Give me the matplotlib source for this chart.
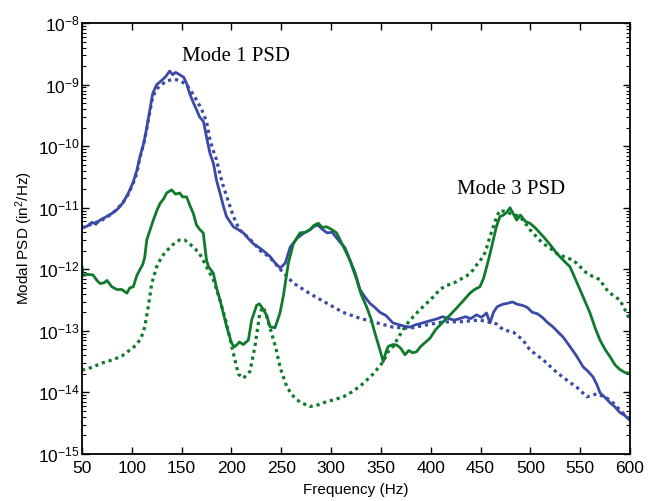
import numpy as np
import matplotlib
matplotlib.use("Agg")
import matplotlib.pyplot as plt
from matplotlib.ticker import LogLocator, NullFormatter

plt.rcParams["font.family"] = ["Liberation Sans", "DejaVu Sans"]
plt.rcParams["mathtext.default"] = "regular"

# blue, solid: mode 1 PSD (measured)
blue_solid_f = [50, 55, 60, 64, 68, 74, 79, 83, 87, 91, 96, 101, 105, 108, 112, 115, 118, 121, 125,
                130, 134, 138, 141, 144, 148, 152, 155, 158, 162, 165, 168, 172, 175, 178.5, 182,
                185, 188.5, 192, 195, 202, 207, 212, 217, 222, 227, 232, 239, 244, 249, 254, 259,
                266, 272, 279, 283, 287, 291, 296, 301, 309, 314, 319, 324, 329, 334, 339, 344,
                349, 355, 362, 368, 373, 379, 385, 390, 396, 402, 407, 412, 418, 424, 429, 435,
                440, 446, 451, 456, 459.5, 463, 466.5, 472, 477, 482, 487, 492, 497, 502, 507,
                512, 517, 523, 528, 533, 540, 546, 553, 558, 563, 567, 570, 575, 580, 585, 590,
                595, 600]
blue_solid_psd = [4.7e-12, 5.0e-12, 5.8e-12, 5.4e-12, 6.3e-12, 7.1e-12, 7.9e-12, 8.7e-12, 1.0e-11,
                  1.2e-11, 1.66e-11, 2.5e-11, 4.0e-11, 6.6e-11, 1.12e-10, 2.0e-10, 3.8e-10, 7.2e-10,
                  1.0e-9, 1.17e-9, 1.35e-9, 1.66e-9, 1.45e-9, 1.58e-9, 1.45e-9, 1.32e-9, 1.05e-9,
                  7.2e-10, 5.0e-10, 3.9e-10, 3.0e-10, 2.5e-10, 1.41e-10, 7.6e-11, 5.2e-11, 2.8e-11,
                  1.74e-11, 1.05e-11, 7.2e-12, 4.9e-12, 4.4e-12, 3.9e-12, 3.16e-12, 2.6e-12, 2.3e-12,
                  2.0e-12, 1.6e-12, 1.26e-12, 1.05e-12, 1.26e-12, 2.3e-12, 3.2e-12, 3.8e-12, 4.4e-12,
                  5.0e-12, 5.2e-12, 4.5e-12, 3.9e-12, 4.0e-12, 2.75e-12, 2.24e-12, 1.4e-12, 8.9e-13,
                  4.7e-13, 3.55e-13, 2.8e-13, 2.4e-13, 2.0e-13, 1.78e-13, 1.35e-13, 1.26e-13, 1.2e-13,
                  1.15e-13, 1.26e-13, 1.32e-13, 1.41e-13, 1.5e-13, 1.58e-13, 1.7e-13, 1.58e-13,
                  1.5e-13, 1.58e-13, 1.7e-13, 1.58e-13, 1.82e-13, 1.66e-13, 1.95e-13, 1.35e-13,
                  2.0e-13, 2.45e-13, 2.7e-13, 2.8e-13, 2.95e-13, 2.7e-13, 2.6e-13, 2.4e-13, 2.0e-13,
                  1.9e-13, 1.66e-13, 1.38e-13, 1.15e-13, 9.5e-14, 7.9e-14, 5.5e-14, 4.0e-14, 2.6e-14,
                  2.2e-14, 1.78e-14, 1.32e-14, 9.8e-15, 8.3e-15, 6.8e-15, 5.8e-15, 4.7e-15, 4.2e-15,
                  3.5e-15]

# blue, dotted: mode 1 PSD (model)
blue_dot_f = [50, 57, 64, 70, 77, 84, 91, 96, 101, 105, 108, 112, 115, 118, 121, 125, 130, 135, 140,
              145, 150, 155, 160, 165, 170, 175, 178.5, 182, 185, 188.5, 192, 196, 202, 208, 215,
              222, 229, 238, 249, 262, 279, 296, 312, 329, 346, 362, 379, 396, 412, 429, 449, 466,
              472.5, 483, 492.6, 499.6, 512.7, 526.7, 539.8, 547, 556.8, 566.8, 576.9, 583, 590,
              595, 600]
blue_dot_psd = [4.7e-12, 5.2e-12, 5.8e-12, 6.3e-12, 7.4e-12, 9.1e-12, 1.2e-11, 1.6e-11, 2.4e-11,
                3.6e-11, 6.3e-11, 1.1e-10, 1.9e-10, 3.5e-10, 6.3e-10, 8.5e-10, 1.0e-9, 1.15e-9,
                1.2e-9, 1.2e-9, 1.12e-9, 1.0e-9, 7.6e-10, 5.6e-10, 4.0e-10, 2.5e-10, 1.26e-10,
                8.3e-11, 6.0e-11, 3.5e-11, 2.2e-11, 1.4e-11, 7.2e-12, 4.4e-12, 3.5e-12, 2.7e-12,
                2.0e-12, 1.6e-12, 1.0e-12, 6.0e-13, 4.0e-13, 2.8e-13, 2.0e-13, 1.6e-13, 1.35e-13,
                1.15e-13, 1.1e-13, 1.25e-13, 1.4e-13, 1.4e-13, 1.5e-13, 1.3e-13, 1.05e-13, 9.5e-14,
                7.1e-14, 4.9e-14, 3.4e-14, 2.1e-14, 1.45e-14, 1.2e-14, 8.5e-15, 9.5e-15, 8.1e-15,
                6.8e-15, 5.2e-15, 4.3e-15, 3.6e-15]

# green, solid: mode 3 PSD (measured)
green_solid_f = [50, 51.3, 55, 61, 65, 68, 72, 75, 80, 85, 90, 95, 98, 101.5, 105, 108, 111, 113, 115,
                 118, 121.6, 125, 128.3, 132, 135, 140, 144, 148, 151, 155, 158, 161.7, 165, 168.4,
                 171.7, 175, 177, 181.8, 185, 188.5, 192, 195.2, 200.2, 203, 205.3, 208, 212, 217,
                 220.3, 225.3, 228, 231, 235.4, 238.7, 243.7, 248.7, 252, 257.1, 262.1, 268.8, 274,
                 278.8, 283, 287.2, 291, 295.6, 300, 305.6, 312.3, 319, 325.7, 330, 335.7, 340,
                 344.1, 348, 352.4, 355, 357.4, 362, 365.8, 370, 374.2, 378, 382, 385.9, 390, 395,
                 399.3, 405, 412.6, 419, 426, 432, 439.4, 444, 449.4, 453, 456.2, 459.5, 462.8,
                 466, 469.5, 473, 476, 479.6, 483, 486.3, 490, 495, 499.6, 505, 513, 520, 526.4,
                 533, 539.8, 545, 549.8, 555, 559.9, 565, 569.9, 575, 580, 585, 590, 595, 600]
green_solid_psd = [1.1e-12, 7.9e-13, 8.3e-13, 8.1e-13, 6.6e-13, 5.9e-13, 6.0e-13, 6.6e-13, 5.2e-13,
                   4.7e-13, 4.7e-13, 4.1e-13, 5.0e-13, 5.2e-13, 7.9e-13, 9.8e-13, 1.2e-12, 1.58e-12,
                   3.0e-12, 4.2e-12, 6.3e-12, 8.9e-12, 1.17e-11, 1.4e-11, 1.74e-11, 1.95e-11,
                   1.66e-11, 1.74e-11, 1.5e-11, 1.5e-11, 1.12e-11, 8.1e-12, 5.2e-12, 4.4e-12,
                   3.9e-12, 1.4e-12, 1.1e-12, 8.7e-13, 5.0e-13, 3.16e-13, 1.9e-13, 1.17e-13, 6.3e-14,
                   5.5e-14, 5.9e-14, 6.6e-14, 6.0e-14, 7.1e-14, 1.5e-13, 2.6e-13, 2.75e-13, 2.35e-13,
                   1.78e-13, 1.17e-13, 1.12e-13, 1.95e-13, 3.6e-13, 1.26e-12, 2.6e-12, 3.9e-12,
                   4.0e-12, 4.4e-12, 5.2e-12, 5.6e-12, 4.8e-12, 4.9e-12, 4.5e-12, 3.9e-12, 2.35e-12,
                   1.4e-12, 6.8e-13, 4.0e-13, 2.45e-13, 1.58e-13, 9.1e-14, 5.6e-14, 3.16e-14, 4.5e-14,
                   5.6e-14, 6.0e-14, 5.9e-14, 5.2e-14, 4.1e-14, 4.8e-14, 4.4e-14, 4.6e-14, 5.6e-14,
                   6.6e-14, 7.6e-14, 1.05e-13, 1.41e-13, 1.78e-13, 2.35e-13, 3.0e-13, 4.1e-13,
                   4.7e-13, 5.2e-13, 7.1e-13, 1.1e-12, 1.78e-12, 3.0e-12, 5.0e-12, 7.2e-12, 7.6e-12,
                   8.3e-12, 1.0e-11, 7.9e-12, 6.3e-12, 7.6e-12, 6.0e-12, 5.6e-12, 4.7e-12, 3.4e-12,
                   2.5e-12, 1.82e-12, 1.41e-12, 1.1e-12, 7.1e-13, 4.7e-13, 3.0e-13, 1.95e-13,
                   1.12e-13, 7.1e-14, 5.0e-14, 3.8e-14, 2.8e-14, 2.35e-14, 2.1e-14, 2.05e-14]

# green, dotted: mode 3 PSD (model)
green_dot_f = [50, 55, 61, 70, 81, 90, 98, 104, 108, 111, 113, 116.5, 120, 125, 130, 135, 141, 148,
               153, 158, 163, 168, 175, 181.8, 188.5, 195.2, 201.8, 206.9, 212, 218.6, 223.6, 228.6,
               232, 235.4, 240.4, 245, 249, 255.4, 260, 265.4, 272, 278.8, 287, 295.6, 303, 312.3,
               320, 329, 336, 342.3, 352.4, 357, 362.4, 367, 372.5, 377, 382.5, 389, 395.9, 402,
               409.3, 416, 422.6, 429.3, 436, 442.7, 448, 452.8, 456, 459.5, 463, 466.2, 469.5, 474,
               479.6, 485, 489.6, 495, 499.6, 506, 513, 520, 526.4, 534, 543.1, 550, 556.5, 563,
               569.9, 575, 580, 585, 590, 595, 600]
green_dot_psd = [2.3e-14, 2.4e-14, 2.6e-14, 3.0e-14, 3.4e-14, 3.9e-14, 4.9e-14, 5.8e-14, 7.1e-14,
                 9.0e-14, 1.17e-13, 2.45e-13, 5.9e-13, 1.1e-12, 1.6e-12, 2.0e-12, 2.5e-12, 3.0e-12,
                 3.0e-12, 2.6e-12, 2.2e-12, 1.8e-12, 1.1e-12, 6.8e-13, 3.16e-13, 1.3e-13, 4.4e-14,
                 2.0e-14, 1.7e-14, 2.2e-14, 5.6e-14, 2.0e-13, 2.45e-13, 1.7e-13, 9.1e-14, 4.9e-14,
                 2.5e-14, 1.26e-14, 9.5e-15, 7.6e-15, 6.6e-15, 5.9e-15, 6.3e-15, 7.1e-15, 7.6e-15,
                 8.5e-15, 1.0e-14, 1.26e-14, 1.6e-14, 2.0e-14, 3.16e-14, 4.5e-14, 5.6e-14, 7.6e-14,
                 1.05e-13, 1.35e-13, 1.7e-13, 2.2e-13, 2.8e-13, 3.5e-13, 4.7e-13, 5.5e-13, 5.9e-13,
                 6.8e-13, 7.8e-13, 9.8e-13, 1.3e-12, 1.6e-12, 2.2e-12, 3.4e-12, 5.0e-12, 7.2e-12,
                 9.1e-12, 8.7e-12, 8.1e-12, 7.6e-12, 7.2e-12, 5.6e-12, 4.4e-12, 3.4e-12, 2.6e-12,
                 2.2e-12, 1.82e-12, 1.6e-12, 1.41e-12, 1.1e-12, 8.7e-13, 7.6e-13, 6.8e-13, 5.0e-13,
                 4.1e-13, 3.6e-13, 3.16e-13, 2.2e-13, 1.5e-13]

x_ticks = [50, 100, 150, 200, 250, 300, 350, 400, 450, 500, 550, 600]

blue = "#3a4aa6"
green = "#0f7a2c"
dots = (0, (1, 1.2))

fig = plt.figure(figsize=(6.58, 5.01), dpi=100)
ax = fig.add_axes([0.1246, 0.0938, 0.8328, 0.8602])

ax.plot(blue_dot_f, blue_dot_psd, color=blue, lw=2.3, linestyle=dots)
ax.plot(green_dot_f, green_dot_psd, color=green, lw=2.3, linestyle=dots)
ax.plot(blue_solid_f, blue_solid_psd, color=blue, lw=2.0)
ax.plot(green_solid_f, green_solid_psd, color=green, lw=2.0)

ax.set_yscale("log")
ax.set_xlim(50, 600)
ax.set_ylim(1e-15, 1e-8)
ax.set_xticks(x_ticks)
ax.yaxis.set_major_locator(LogLocator(base=10, numticks=10))
ax.yaxis.set_minor_locator(LogLocator(base=10, subs=np.arange(2, 10), numticks=20))
ax.yaxis.set_minor_formatter(NullFormatter())

ax.tick_params(which="both", direction="in", top=True, right=True, labelsize=12.5)
ax.tick_params(which="major", length=5, width=1)
ax.tick_params(which="minor", length=3, width=0.8)
ax.tick_params(axis="y", pad=1.5)
ax.tick_params(axis="x", pad=5)
for s in ax.spines.values():
    s.set_linewidth(1.3)

ax.set_xlabel("Frequency (Hz)", fontsize=11, labelpad=5)
ax.set_ylabel("Modal PSD (in$^2$/Hz)", fontsize=11, labelpad=2)

ax.text(204.5, 2.9e-9, "Mode 1 PSD", family=["Liberation Serif", "DejaVu Serif"],
        fontsize=15, ha="center", va="center")
ax.text(480.5, 1.95e-11, "Mode 3 PSD", family=["Liberation Serif", "DejaVu Serif"],
        fontsize=15, ha="center", va="center")

fig.savefig("out.png", dpi=100)
